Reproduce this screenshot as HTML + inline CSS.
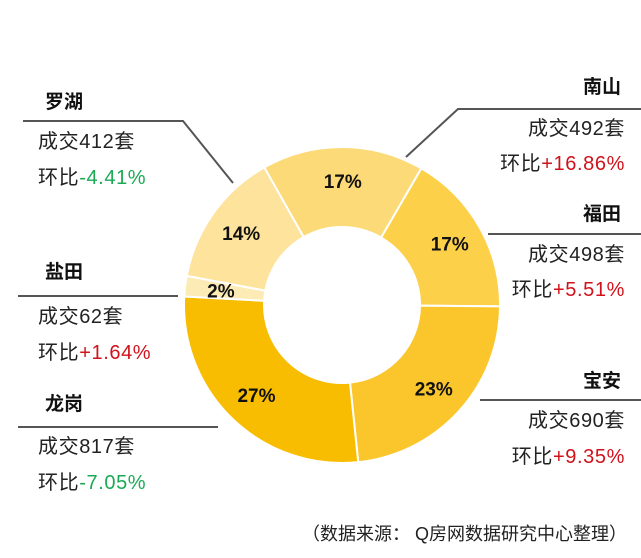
<!DOCTYPE html>
<html><head><meta charset="utf-8"><style>
html,body{margin:0;padding:0;background:#fff;width:641px;height:558px;overflow:hidden}
svg{display:block;font-family:"Liberation Sans","Noto Sans CJK SC",sans-serif}
.t{font-size:19px;font-weight:bold;fill:#111}
.b{font-size:20px;fill:#222;letter-spacing:0.6px}
.g{fill:#1aaa55}.r{fill:#d0121b}
.p{font-size:19px;font-weight:bold;fill:#111}
</style></head><body>
<svg id="chart" width="641" height="558">
<g id="slices"></g>
<g id="labels"></g>
<g stroke="#555" stroke-width="2" fill="none">
<polyline points="23,121 183,121 233,183"/>
<line x1="18" y1="296" x2="178" y2="296"/>
<line x1="18" y1="427" x2="218" y2="427"/>
<polyline points="641,109 458,109 406,157"/>
<line x1="488" y1="234" x2="641" y2="234"/>
<line x1="480" y1="400" x2="641" y2="400"/>
</g>
<g>
<text class="t" x="45" y="108">罗湖</text>
<text class="b" x="38" y="148">成交412套</text>
<text class="b" x="38" y="184">环比<tspan class="g">-4.41%</tspan></text>
<text class="t" x="45" y="278">盐田</text>
<text class="b" x="38" y="323">成交62套</text>
<text class="b" x="38" y="359">环比<tspan class="r">+1.64%</tspan></text>
<text class="t" x="45" y="410">龙岗</text>
<text class="b" x="38" y="453">成交817套</text>
<text class="b" x="38" y="489">环比<tspan class="g">-7.05%</tspan></text>
</g>
<g text-anchor="end">
<text class="t" x="621" y="93">南山</text>
<text class="b" x="625" y="135">成交492套</text>
<text class="b" x="625" y="170">环比<tspan class="r">+16.86%</tspan></text>
<text class="t" x="621" y="220">福田</text>
<text class="b" x="625" y="261">成交498套</text>
<text class="b" x="625" y="296">环比<tspan class="r">+5.51%</tspan></text>
<text class="t" x="621" y="387">宝安</text>
<text class="b" x="625" y="427">成交690套</text>
<text class="b" x="625" y="463">环比<tspan class="r">+9.35%</tspan></text>
</g>
<text x="627" y="540" text-anchor="end" style="font-size:18px;fill:#222">（数据来源： Q房网数据研究中心整理）</text>
</svg>
<script>
const districts = ["南山","福田","宝安","龙岗","盐田","罗湖"];
const volumes = [492,498,690,817,62,412];
const pctLabels = ["17%","17%","23%","27%","2%","14%"];
const colors = ["#fdda78","#fcd048","#fac62c","#f8bd00","#fdebb5","#fde39c"];
const cx=342, cy=305, R=158, r=78;
const total = volumes.reduce((a,b)=>a+b,0);
const NS="http://www.w3.org/2000/svg";
const sg=document.getElementById('slices'), lg=document.getElementById('labels');
function pt(a,rad){const t=a*Math.PI/180;return [cx+rad*Math.sin(t), cy-rad*Math.cos(t)];}
let ang = 90 - (volumes[0]+volumes[1])/total*360 + 0.5;
volumes.forEach((v,i)=>{
  const sweep=v/total*360, a0=ang, a1=ang+sweep; ang=a1;
  const p0=pt(a0,R),p1=pt(a1,R),q1=pt(a1,r),q0=pt(a0,r),lf=sweep>180?1:0;
  const path=document.createElementNS(NS,'path');
  path.setAttribute('d',`M${p0} A${R},${R} 0 ${lf} 1 ${p1} L${q1} A${r},${r} 0 ${lf} 0 ${q0}Z`);
  path.setAttribute('fill',colors[i]);path.setAttribute('stroke','#fff');path.setAttribute('stroke-width','2');
  
  
  sg.appendChild(path);
  const m=(a0+a1)/2, lp=pt(m, sweep<10?(R+r)/2+4:(R+r)/2+6);
  const t=document.createElementNS(NS,'text');
  t.setAttribute('x',lp[0]);t.setAttribute('y',lp[1]+7);t.setAttribute('text-anchor','middle');
  t.setAttribute('class','p');t.textContent=pctLabels[i];
  
  
  lg.appendChild(t);
});
</script>
</body></html>
